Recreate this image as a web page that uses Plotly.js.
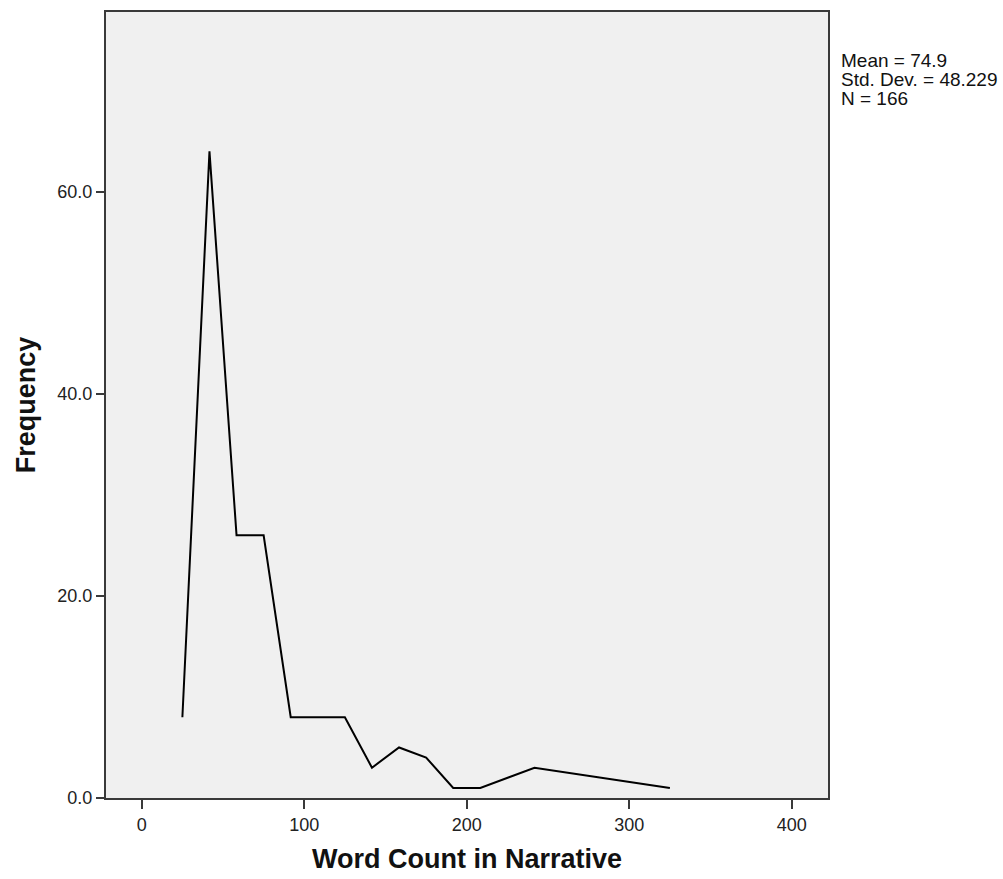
<!DOCTYPE html>
<html>
<head>
<meta charset="utf-8">
<script src="https://cdn.plot.ly/plotly-3.0.1.min.js"></script>
<style>html,body{margin:0;padding:0;background:#fff;}#chart{width:1003px;height:879px;}</style>
</head>
<body>
<div id="chart"></div>
<script>
// Bin midpoints (word count) and frequencies (SPSS frequency polygon, empty bins omitted)
const wordCount = [25, 41.67, 58.33, 75, 91.67, 108.33, 125, 141.67, 158.33, 175, 191.67, 208.33, 241.67, 325];
const frequency = [8, 64, 26, 26, 8, 8, 8, 3, 5, 4, 1, 1, 3, 1];
const statsLines = ["Mean = 74.9", "Std. Dev. = 48.229", "N = 166"];
const yTicks = [0, 20, 40, 60];
const xTicks = [0, 100, 200, 300, 400];

const trace = {
  x: wordCount, y: frequency, type: 'scatter', mode: 'lines',
  line: {color: '#000000', width: 2}, hoverinfo: 'skip'
};

const statsAnnotations = statsLines.map((t, i) => ({
  xref: 'paper', yref: 'paper', x: 1, y: 1, xanchor: 'left', yanchor: 'top',
  xshift: 11, yshift: -36 - 19 * i, align: 'left', showarrow: false,
  text: t, font: {size: 19, color: '#111'}
}));

const layout = {
  width: 1003, height: 879,
  margin: {l: 106, r: 175, t: 12, b: 81},
  paper_bgcolor: '#ffffff', plot_bgcolor: '#f0f0f0',
  showlegend: false,
  font: {family: 'Liberation Sans, Arial, sans-serif', color: '#000'},
  xaxis: {
    range: [-22, 422.3], tickvals: xTicks, ticktext: xTicks.map(String),
    ticks: 'outside', ticklen: 9, tickwidth: 2, tickcolor: '#3a3a3a',
    showgrid: false, zeroline: false, showline: true, linecolor: '#3a3a3a', linewidth: 2, mirror: true,
    tickfont: {size: 18, color: '#222'},
    title: {text: '<b>Word Count in Narrative</b>', font: {size: 27, color: '#111'}, standoff: 16}
  },
  yaxis: {
    range: [0, 77.8], tickvals: yTicks, ticktext: yTicks.map(v => v.toFixed(1)),
    ticks: 'outside', ticklen: 8, tickwidth: 2, tickcolor: '#3a3a3a',
    showgrid: false, zeroline: false, showline: true, linecolor: '#3a3a3a', linewidth: 2, mirror: true,
    tickfont: {size: 18, color: '#222'},
    title: {text: '<b>Frequency</b>', font: {size: 27, color: '#111'}, standoff: 14}
  },
  annotations: statsAnnotations
};

Plotly.newPlot('chart', [trace], layout, {displayModeBar: false, staticPlot: true});
</script>
</body>
</html>
